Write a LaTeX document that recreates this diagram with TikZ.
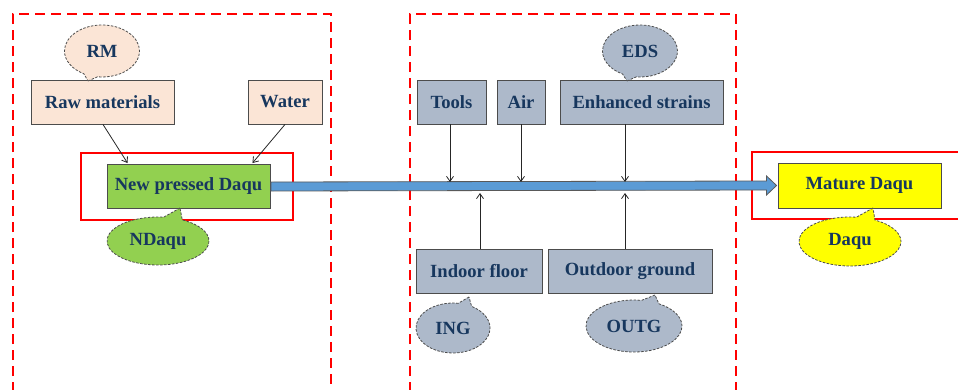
\documentclass[tikz,border=0pt]{standalone}
\usepackage{fontspec}
\setmainfont{Liberation Serif}
\usetikzlibrary{shapes.callouts,arrows.meta,calc}
\definecolor{peach}{HTML}{FBE5D6}
\definecolor{leaf}{HTML}{92D050}
\definecolor{slate}{HTML}{ADB9CA}
\definecolor{lemon}{HTML}{FFFF00}
\definecolor{arrowblue}{HTML}{5B9BD5}
\definecolor{txt}{HTML}{17375E}
\definecolor{redline}{HTML}{FF0000}
\begin{document}
\begin{tikzpicture}[x=1pt,y=-1pt,
  lbl/.style={text=txt, font=\bfseries\fontsize{18.6}{20}\selectfont},
  box/.style={lbl, draw=black!70, line width=0.9pt, minimum height=44pt, inner sep=0pt},
  bubble/.style={lbl, ellipse callout, draw=black!70, dashed, dash pattern=on 2.5pt off 1.5pt, line width=0.8pt, inner sep=0pt, callout pointer arc=22},
  zone/.style={draw=redline, line width=2.4pt, dash pattern=on 10pt off 6pt},
  frame/.style={draw=redline, line width=2.4pt},
  feed/.style={draw=black!85, line width=0.8pt, -{Straight Barb[length=5pt,width=7pt]}}
]
\useasboundingbox (0,0) rectangle (958,389);
% zones
\draw[zone] (13,392) -- (13,14) -- (331,14) -- (331,392);
\draw[zone] (410,392) -- (410,14) -- (736,14) -- (736,392);
\draw[frame] (81,153) rectangle (293,220);
\draw[frame] (962,152) -- (752,152) -- (752,219) -- (962,219);
% left boxes
\node[box, fill=peach, minimum width=143pt] (raw) at (102.5,102) {Raw materials};
\node[box, fill=peach, minimum width=74pt] (water) at (285,102) {Water};
\node[box, fill=leaf, minimum width=163pt] (newp) at (188.5,186.5) {New pressed Daqu};
\node[box, fill=lemon, minimum width=163pt, minimum height=45pt] (mature) at (859.5,185.5) {Mature Daqu};
% middle boxes
\node[box, fill=slate, minimum width=69pt] (tools) at (451.5,102) {Tools};
\node[box, fill=slate, minimum width=48pt] (air) at (521,102) {Air};
\node[box, fill=slate, minimum width=163pt] (enh) at (641.5,102) {Enhanced strains};
\node[box, fill=slate, minimum width=126pt] (indoor) at (479,271) {Indoor floor};
\node[box, fill=slate, minimum width=164pt] (outdoor) at (630,271) {Outdoor ground};
% callouts
\node[bubble, fill=peach, minimum width=75pt, minimum height=52pt, callout absolute pointer={(88,81)}] (rm) at (102,51) {RM};
\node[bubble, fill=slate, minimum width=75pt, minimum height=52pt, callout absolute pointer={(627,81)}] (eds) at (640,51) {EDS};
\node[bubble, fill=leaf, minimum width=102pt, minimum height=48pt, callout absolute pointer={(180,208)}] (nd) at (158,241) {NDaqu};
\node[bubble, fill=lemon, minimum width=102pt, minimum height=49pt, callout absolute pointer={(873,208)}] (dq) at (850,241.5) {Daqu};
\node[bubble, fill=slate, minimum width=74pt, minimum height=50pt, callout absolute pointer={(469,297)}] (ing) at (453,328) {ING};
\node[bubble, fill=slate, minimum width=96pt, minimum height=52pt, callout absolute pointer={(655,295)}] (outg) at (634,326) {OUTG};
% main arrow
\draw[fill=arrowblue, draw=black!65, line width=0.8pt]
  ($(newp.east)+(0.5,-4.5)$) -- ($(mature.west)+(-11,-4.5)$) -- ($(mature.west)+(-11,-9.5)$)
  -- ($(mature.west)+(-1,0)$) -- ($(mature.west)+(-11,9.5)$) -- ($(mature.west)+(-11,4.5)$)
  -- ($(newp.east)+(0.5,4.5)$) -- cycle;
\coordinate (top) at (0,182);
\coordinate (bot) at (0,193);
\coordinate (tS) at ($(tools.south)+(-1.5,0)$);
\coordinate (eS) at ($(enh.south)+(-16.5,0)$);
\coordinate (iN) at ($(indoor.north)+(1,0)$);
\coordinate (oN) at ($(outdoor.north)+(-5,0)$);
% feeds
\draw[feed] ($(raw.south)+(0.5,0)$) -- ($(newp.north west)+(21,-1)$);
\draw[feed] (water.south) -- ($(newp.north east)+(-18,-1)$);
\draw[feed] (tS) -- (tS |- top);
\draw[feed] (air.south) -- (air.south |- top);
\draw[feed] (eS) -- (eS |- top);
\draw[feed] (iN) -- (iN |- bot);
\draw[feed] (oN) -- (oN |- bot);
\end{tikzpicture}
\end{document}
